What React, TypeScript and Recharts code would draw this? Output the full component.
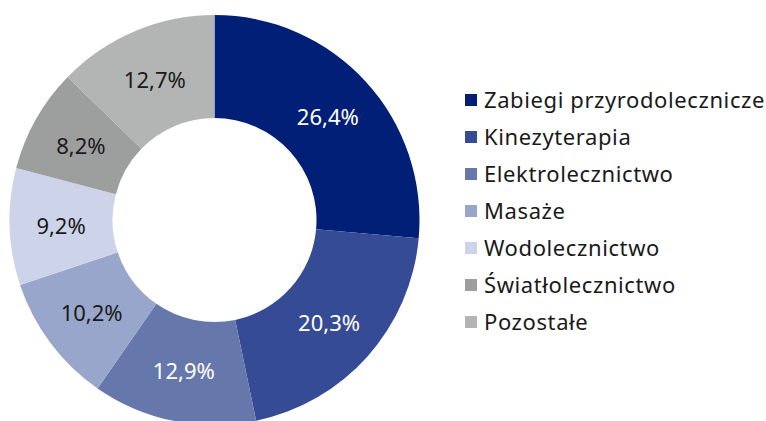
import { Cell, Legend, Pie, PieChart } from 'recharts'

const CATEGORIES = [
  'Zabiegi przyrodolecznicze',
  'Kinezyterapia',
  'Elektrolecznictwo',
  'Masaże',
  'Wodolecznictwo',
  'Światłolecznictwo',
  'Pozostałe',
]
const SHARES = [26.4, 20.3, 12.9, 10.2, 9.2, 8.2, 12.7]

const COLORS = ['#021f77', '#354b95', '#6677ac', '#98a6cb', '#cdd3e8', '#9d9f9e', '#b3b5b4']
const LABEL_COLORS = ['#ffffff', '#ffffff', '#ffffff', '#1a1a1a', '#1a1a1a', '#1a1a1a', '#1a1a1a']

const FONT = '"Noto Sans", "Open Sans", sans-serif'
const RADIAN = Math.PI / 180

const data = CATEGORIES.map((name, i) => ({ name, value: SHARES[i] }))

const fmt = (v: number) => v.toFixed(1).replace('.', ',') + '%'

function SliceLabel(props: any) {
  const { cx, cy, midAngle, innerRadius, outerRadius, index, value } = props
  const r = (innerRadius + outerRadius) / 2
  const x = cx + r * Math.cos(-midAngle * RADIAN)
  const y = cy + r * Math.sin(-midAngle * RADIAN)
  return (
    <text
      x={x}
      y={y}
      fill={LABEL_COLORS[index]}
      textAnchor="middle"
      dominantBaseline="central"
      fontFamily={FONT}
      fontSize={22}
    >
      {fmt(value)}
    </text>
  )
}

function LegendList() {
  return (
    <div style={{ fontFamily: FONT, fontSize: 22, color: '#1a1a1a' }}>
      {CATEGORIES.map((name, i) => (
        <div key={name} style={{ display: 'flex', alignItems: 'center', height: 37 }}>
          <span
            style={{
              display: 'inline-block',
              width: 12,
              height: 12,
              background: COLORS[i],
              marginRight: 7,
              marginTop: 3,
            }}
          />
          <span style={{ letterSpacing: 0.6, whiteSpace: 'nowrap' }}>{name}</span>
        </div>
      ))}
    </div>
  )
}

export default function App() {
  return (
    <div style={{ position: 'absolute', left: 0, top: 0, width: 766, height: 421, background: '#fff' }}>
      <PieChart width={766} height={421} margin={{ top: 0, right: 0, bottom: 0, left: 0 }}>
        <Pie
          data={data}
          dataKey="value"
          nameKey="name"
          cx={214.5}
          cy={220}
          innerRadius={102}
          outerRadius={205}
          startAngle={90}
          endAngle={-270}
          stroke="none"
          label={SliceLabel}
          labelLine={false}
          isAnimationActive={false}
        >
          {data.map((d, i) => (
            <Cell key={d.name} fill={COLORS[i]} />
          ))}
        </Pie>
        <Legend
          content={<LegendList />}
          wrapperStyle={{ position: 'absolute', left: 465, top: 80, width: 300 }}
        />
      </PieChart>
    </div>
  )
}
